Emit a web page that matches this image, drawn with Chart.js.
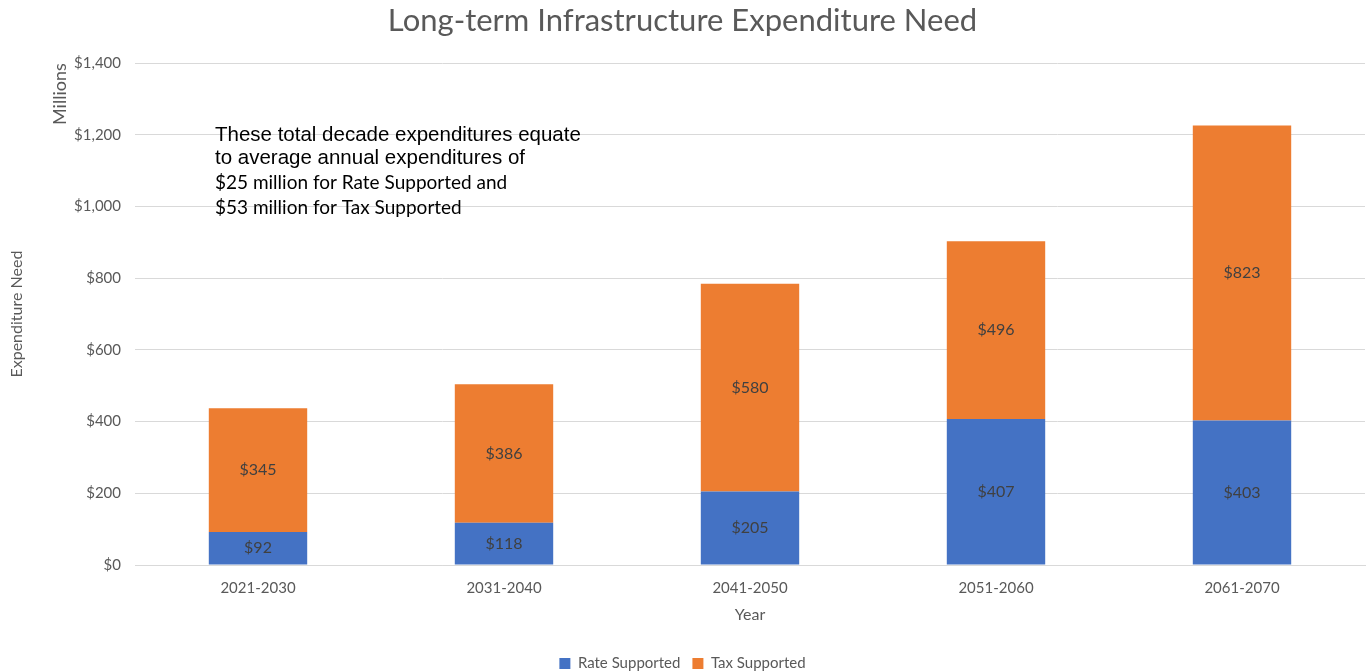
<!DOCTYPE html>
<html>
<head>
<meta charset="utf-8">
<script src="https://cdn.jsdelivr.net/npm/chart.js@4"></script>
<style>
  html, body { margin: 0; padding: 0; background: #fff; }
  #wrap { width: 1369px; height: 672px; }
</style>
</head>
<body>
<div id="wrap"><canvas id="chart"></canvas></div>
<script>
// decade periods and the two funding sources (millions)
const decades = ["2021-2030", "2031-2040", "2041-2050", "2051-2060", "2061-2070"];
const rateSupported = [92, 118, 205, 407, 403];
const taxSupported = [345, 386, 580, 496, 823];
const yTicks = [0, 200, 400, 600, 800, 1000, 1200, 1400];
const noteLines = [
  "These total decade expenditures equate",
  "to average annual expenditures of",
  "$25 million for Rate Supported and",
  "$53 million for Tax Supported"
];

const FONT = "Lato, 'Noto Sans', sans-serif";
const GREY = "#595959";

// write the value in the middle of each bar segment
const segmentLabels = {
  id: "segmentLabels",
  afterDatasetsDraw(chart) {
    const ctx = chart.ctx;
    ctx.save();
    ctx.font = "16px " + FONT;
    ctx.fillStyle = "#404040";
    ctx.textAlign = "center";
    ctx.textBaseline = "middle";
    chart.data.datasets.forEach((ds, i) => {
      chart.getDatasetMeta(i).data.forEach((bar, j) => {
        const mid = (bar.y + bar.base) / 2;
        ctx.fillText("$" + ds.data[j], bar.x, mid);
      });
    });
    ctx.restore();
  }
};

// "Millions" unit label and the note text box
const extras = {
  id: "extras",
  afterDraw(chart) {
    const ctx = chart.ctx;
    const area = chart.chartArea;
    ctx.save();
    ctx.fillStyle = GREY;
    ctx.font = "18px " + FONT;
    ctx.translate(60, area.top);
    ctx.rotate(-Math.PI / 2);
    ctx.textAlign = "right";
    ctx.textBaseline = "middle";
    ctx.fillText("Millions", 0, 0);
    ctx.restore();

    ctx.save();
    ctx.fillStyle = "#000";
    ctx.textBaseline = "alphabetic";
    const x = area.left + 80;
    ctx.font = "20.5px 'Liberation Sans', Arial, sans-serif";
    ctx.fillText(noteLines[0], x, area.top + 78);
    ctx.fillText(noteLines[1], x, area.top + 101);
    ctx.font = "19px " + FONT;
    ctx.fillText(noteLines[2], x, area.top + 126);
    ctx.fillText(noteLines[3], x, area.top + 151);
    ctx.restore();
  }
};

new Chart(document.getElementById("chart"), {
  type: "bar",
  data: {
    labels: decades,
    datasets: [
      {
        label: "Rate Supported",
        data: rateSupported,
        backgroundColor: "#4472C4",
        barPercentage: 0.8,
        categoryPercentage: 0.5
      },
      {
        label: "Tax Supported",
        data: taxSupported,
        backgroundColor: "#ED7D31",
        barPercentage: 0.8,
        categoryPercentage: 0.5
      }
    ]
  },
  options: {
    responsive: true,
    maintainAspectRatio: false,
    animation: false,
    layout: { padding: { left: 0, right: 4, top: 0, bottom: -9 } },
    plugins: {
      title: {
        display: true,
        text: "Long-term Infrastructure Expenditure Need",
        color: GREY,
        font: { family: FONT, size: 31, weight: "normal" },
        padding: { top: 2, bottom: 24 }
      },
      legend: {
        position: "bottom",
        labels: {
          color: GREY,
          font: { family: FONT, size: 15 },
          boxWidth: 11,
          boxHeight: 11,
          padding: 12
        }
      },
      tooltip: { enabled: false }
    },
    scales: {
      x: {
        stacked: true,
        grid: { display: false },
        border: { color: "#d9d9d9" },
        ticks: { color: GREY, font: { family: FONT, size: 15 }, padding: 6 },
        afterFit(scale) { scale.height = 79; },
        title: {
          display: true,
          text: "Year",
          color: GREY,
          font: { family: FONT, size: 16 },
          padding: { top: 2, bottom: 20 }
        }
      },
      y: {
        stacked: true,
        min: 0,
        max: 1400,
        afterBuildTicks(scale) {
          scale.ticks = yTicks.map(v => ({ value: v }));
        },
        afterFit(scale) { scale.width = 135; },
        grid: { color: "#d9d9d9", drawTicks: false },
        border: { display: false },
        ticks: {
          color: GREY,
          font: { family: FONT, size: 15 },
          padding: 14,
          callback: v => "$" + v.toLocaleString("en-US")
        },
        title: {
          display: true,
          text: "Expenditure Need",
          color: GREY,
          font: { family: FONT, size: 16 },
          padding: { top: 7, bottom: 0 }
        }
      }
    }
  },
  plugins: [segmentLabels, extras]
});
</script>
</body>
</html>
